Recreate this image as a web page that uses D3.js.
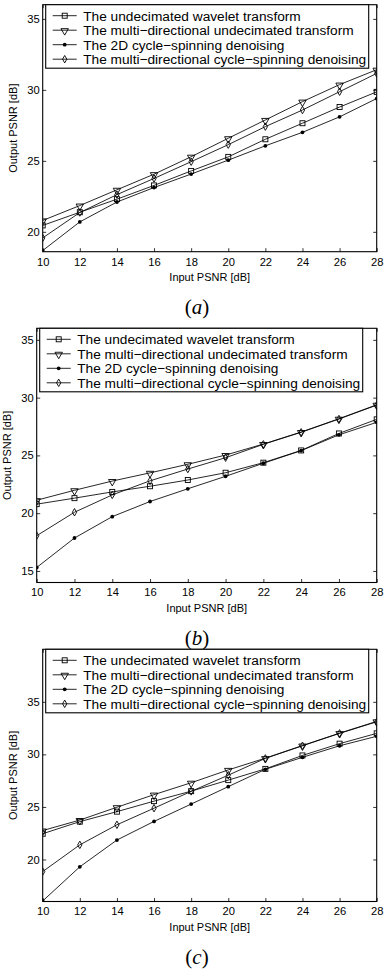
<!DOCTYPE html>
<html>
<head>
<meta charset="utf-8">
<script src="https://cdn.jsdelivr.net/npm/d3@7/dist/d3.min.js"></script>
<style>
  body { margin: 0; background: #fff; }
  svg { display: block; }
</style>
</head>
<body>
<div id="chart"></div>
<script>
// input PSNR on the x axis (dB)
const inputPsnr = [10, 12, 14, 16, 18, 20, 22, 24, 26, 28];

const seriesNames = [
  'The undecimated wavelet transform',
  'The multi\u2212directional undecimated transform',
  'The 2D cycle\u2212spinning denoising',
  'The multi\u2212directional cycle\u2212spinning denoising'
];

// panel (a)
const aUndecimated      = [20.45, 21.38, 22.30, 23.27, 24.29, 25.28, 26.52, 27.65, 28.79, 29.86];
const aMultiUndecimated = [20.80, 21.85, 22.96, 24.06, 25.29, 26.59, 27.88, 29.17, 30.37, 31.42];
const aCycleSpin2d      = [18.68, 20.70, 22.10, 23.12, 24.07, 25.05, 26.06, 27.01, 28.10, 29.39];
const aMultiCycleSpin   = [19.57, 21.36, 22.62, 23.76, 24.94, 26.14, 27.41, 28.58, 29.87, 31.16];

// panel (b)
const bUndecimated      = [20.78, 21.30, 21.84, 22.33, 22.87, 23.50, 24.37, 25.43, 26.90, 28.12];
const bMultiUndecimated = [21.12, 21.98, 22.78, 23.49, 24.23, 25.03, 25.98, 27.02, 28.17, 29.38];
const bCycleSpin2d      = [15.30, 17.85, 19.70, 21.01, 22.11, 23.19, 24.32, 25.41, 26.78, 27.86];
const bMultiCycleSpin   = [18.05, 20.08, 21.58, 22.80, 23.82, 24.80, 25.96, 27.00, 28.15, 29.35];

// panel (c)
const cUndecimated      = [22.45, 23.60, 24.55, 25.55, 26.50, 27.55, 28.62, 29.90, 31.02, 32.00];
const cMultiUndecimated = [22.75, 23.75, 24.97, 26.17, 27.30, 28.52, 29.64, 30.84, 32.02, 33.14];
const cCycleSpin2d      = [16.05, 19.30, 21.85, 23.62, 25.27, 26.93, 28.58, 29.72, 30.82, 31.72];
const cMultiCycleSpin   = [18.85, 21.39, 23.30, 24.88, 26.48, 28.02, 29.62, 30.82, 32.00, 33.10];

const xTicks = [10, 12, 14, 16, 18, 20, 22, 24, 26, 28];

const width = 384;
const height = 972;
const sans = '"Liberation Sans", Arial, Helvetica, sans-serif';

const svg = d3.select('#chart')
  .append('svg')
  .attr('width', width)
  .attr('height', height);

// marker style for each series, in legend order
const markers = ['square', 'triangle', 'dot', 'diamond'];

function drawMarker(g, kind, x, y) {
  if (kind === 'square') {
    g.append('rect')
      .attr('x', x - 2.5).attr('y', y - 2.5)
      .attr('width', 5).attr('height', 5)
      .attr('fill', 'none').attr('stroke', '#000').attr('stroke-width', 0.9);
  } else if (kind === 'triangle') {
    g.append('path')
      .attr('d', d3.symbol(d3.symbolTriangle, 24)())
      .attr('transform', `translate(${x},${y + 0.6}) rotate(180)`)
      .attr('fill', 'none').attr('stroke', '#000').attr('stroke-width', 0.9);
  } else if (kind === 'diamond') {
    g.append('path')
      .attr('d', d3.symbol(d3.symbolDiamond, 16)())
      .attr('transform', `translate(${x},${y})`)
      .attr('fill', 'none').attr('stroke', '#000').attr('stroke-width', 0.9);
  } else {
    g.append('circle')
      .attr('cx', x).attr('cy', y).attr('r', 1.9)
      .attr('fill', '#000');
  }
}

function drawPanel(p) {
  const x = d3.scaleLinear([10, 28], [p.left, p.right]);
  const y = d3.scaleLinear(p.yDomain, [p.bottom, p.top]);
  const tick = 3.5;

  const g = svg.append('g');

  // clip so lines stop at the box
  const clipId = 'clip-' + p.name;
  g.append('clipPath').attr('id', clipId)
    .append('rect')
    .attr('x', p.left).attr('y', p.top)
    .attr('width', p.right - p.left).attr('height', p.bottom - p.top);

  // axes, ticks pointing in (matlab style)
  const axisFont = a => a.selectAll('text')
    .attr('font-family', sans)
    .attr('font-size', 11.2)
    .attr('fill', '#000');

  g.append('g')
    .attr('transform', `translate(0,${p.bottom})`)
    .call(d3.axisBottom(x).tickValues(xTicks).tickSizeInner(-tick).tickSizeOuter(0).tickPadding(6))
    .call(a => a.select('.domain').remove())
    .call(axisFont);

  g.append('g')
    .attr('transform', `translate(0,${p.top})`)
    .call(d3.axisTop(x).tickValues(xTicks).tickSizeInner(-tick).tickSizeOuter(0).tickFormat(''))
    .call(a => a.select('.domain').remove());

  g.append('g')
    .attr('transform', `translate(${p.left},0)`)
    .call(d3.axisLeft(y).tickValues(p.yTicks).tickSizeInner(-tick).tickSizeOuter(0).tickPadding(3))
    .call(a => a.select('.domain').remove())
    .call(axisFont);

  g.append('g')
    .attr('transform', `translate(${p.right},0)`)
    .call(d3.axisRight(y).tickValues(p.yTicks).tickSizeInner(-tick).tickSizeOuter(0).tickFormat(''))
    .call(a => a.select('.domain').remove());

  g.selectAll('.tick line').attr('stroke', '#000').attr('stroke-width', 0.8);

  // series
  const plot = g.append('g').attr('clip-path', `url(#${clipId})`);
  const line = d3.line().x((d, i) => x(inputPsnr[i])).y(d => y(d));
  p.series.forEach((values, k) => {
    plot.append('path')
      .attr('d', line(values))
      .attr('fill', 'none')
      .attr('stroke', '#000')
      .attr('stroke-width', 0.85);
    values.forEach((v, i) => drawMarker(plot, markers[k], x(inputPsnr[i]), y(v)));
  });

  // frame
  g.append('rect')
    .attr('x', p.left).attr('y', p.top)
    .attr('width', p.right - p.left).attr('height', p.bottom - p.top)
    .attr('fill', 'none').attr('stroke', '#000').attr('stroke-width', 1.1);

  // axis titles
  g.append('text')
    .attr('x', (p.left + p.right) / 2)
    .attr('y', p.bottom + 29)
    .attr('text-anchor', 'middle')
    .attr('font-family', sans)
    .attr('font-size', 11)
    .text('Input PSNR [dB]');

  g.append('text')
    .attr('transform', `translate(${p.left - 26},${(p.top + p.bottom) / 2}) rotate(-90)`)
    .attr('text-anchor', 'middle')
    .attr('font-family', sans)
    .attr('font-size', 11)
    .text('Output PSNR [dB]');

  // legend
  const lx = p.left + 3;
  const lw = 323;
  const lh = 63.5;
  const leg = g.append('g');
  leg.append('rect')
    .attr('x', lx).attr('y', p.top)
    .attr('width', lw).attr('height', lh)
    .attr('fill', '#fff').attr('stroke', '#000').attr('stroke-width', 1.1);
  seriesNames.forEach((name, k) => {
    const ly = p.top + 11 + k * 14.5;
    leg.append('line')
      .attr('x1', lx + 7).attr('x2', lx + 31)
      .attr('y1', ly).attr('y2', ly)
      .attr('stroke', '#000').attr('stroke-width', 0.85);
    drawMarker(leg, markers[k], lx + 19, ly);
    leg.append('text')
      .attr('x', lx + 37.5)
      .attr('y', ly)
      .attr('dy', '0.36em')
      .attr('font-family', sans)
      .attr('font-size', 13.7)
      .text(name);
  });

  // caption
  const cap = g.append('text')
    .attr('x', 197)
    .attr('y', p.bottom + 62)
    .attr('text-anchor', 'middle')
    .attr('font-family', '"Liberation Serif", "Times New Roman", serif')
    .attr('font-size', 21);
  cap.append('tspan').text('(');
  cap.append('tspan').attr('font-style', 'italic').text(p.name);
  cap.append('tspan').text(')');
}

const panels = [
  { name: 'a', left: 42.7, right: 376.7, top: 4.7, bottom: 251.7, yDomain: [18.6, 36], yTicks: [20, 25, 30, 35],
    series: [aUndecimated, aMultiUndecimated, aCycleSpin2d, aMultiCycleSpin] },
  { name: 'b', left: 36.7, right: 376.7, top: 328.3, bottom: 582.5, yDomain: [14, 36], yTicks: [15, 20, 25, 30, 35],
    series: [bUndecimated, bMultiUndecimated, bCycleSpin2d, bMultiCycleSpin] },
  { name: 'c', left: 42.7, right: 376.7, top: 649.3, bottom: 901.5, yDomain: [16, 40], yTicks: [20, 25, 30, 35],
    series: [cUndecimated, cMultiUndecimated, cCycleSpin2d, cMultiCycleSpin] }
];

panels.forEach(drawPanel);
</script>
</body>
</html>
